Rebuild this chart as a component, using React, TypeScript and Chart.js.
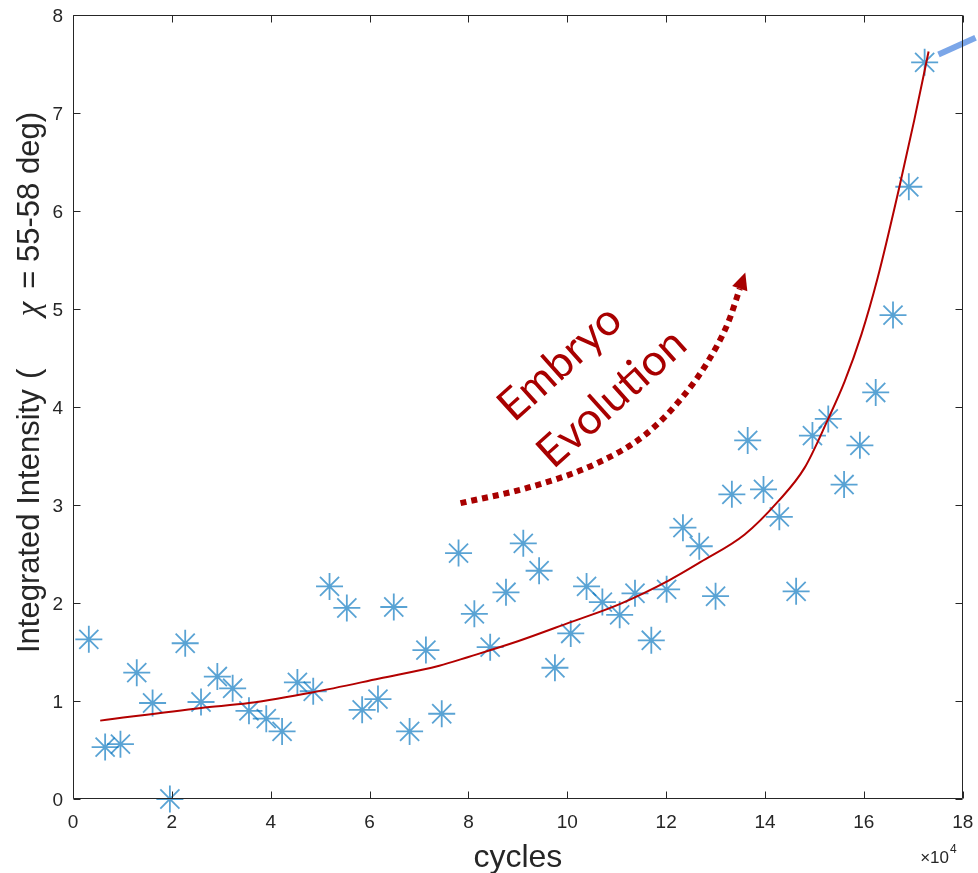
import React, { useEffect, useRef } from "react";
import { Chart, registerables } from "chart.js";

Chart.register(...registerables);

// measured data (cycles in units of 1e4)
const cyclesX = [0.32, 0.65, 0.96, 1.29, 1.61, 1.96, 2.27, 2.59, 2.92, 3.23, 3.56, 3.91, 4.23, 4.54, 4.86, 5.19, 5.54, 5.85, 6.17, 6.49, 6.81, 7.14, 7.46, 7.80, 8.12, 8.44, 8.76, 9.11, 9.43, 9.75, 10.07, 10.39, 10.71, 11.06, 11.37, 11.70, 12.01, 12.34, 12.67, 13.00, 13.33, 13.65, 13.97, 14.29, 14.63, 14.96, 15.28, 15.60, 15.92, 16.24, 16.59, 16.91, 17.23];
const intensity = [1.63, 0.53, 0.56, 1.29, 0.98, 0.0, 1.59, 0.99, 1.25, 1.13, 0.90, 0.82, 0.69, 1.19, 1.10, 2.17, 1.95, 0.91, 1.02, 1.96, 0.69, 1.52, 0.87, 2.51, 1.89, 1.55, 2.11, 2.61, 2.33, 1.34, 1.69, 2.17, 2.01, 1.88, 2.10, 1.62, 2.14, 2.77, 2.58, 2.07, 3.11, 3.66, 3.16, 2.88, 2.12, 3.71, 3.88, 3.21, 3.61, 4.15, 4.94, 6.25, 7.52];

// fitted curve
const fitX = [0.55, 2.59, 3.56, 4.86, 6.20, 7.41, 8.00, 9.00, 10.04, 11.06, 12.05, 12.70, 13.59, 14.27, 14.80, 15.26, 15.61, 15.95, 16.28, 16.72, 17.02, 17.31];
const fitY = [0.80, 0.93, 0.98, 1.09, 1.23, 1.36, 1.45, 1.61, 1.80, 1.99, 2.23, 2.42, 2.70, 3.04, 3.38, 3.86, 4.26, 4.74, 5.32, 6.25, 6.93, 7.63];

// "Embryo Evolution" dotted trend arrow
const trendX = [7.84, 9.22, 10.57, 11.58, 12.31, 12.85, 13.26, 13.49];
const trendY = [3.02, 3.18, 3.42, 3.72, 4.09, 4.47, 4.87, 5.21];

// blue pointer stroke at top right
const pointerX = [17.51, 18.26];
const pointerY = [7.60, 7.77];

const xTicks = [0, 2, 4, 6, 8, 10, 12, 14, 16, 18];
const yTicks = [0, 1, 2, 3, 4, 5, 6, 7, 8];
const xTickLabels = ["0", "2", "4", "6", "8", "10", "12", "14", "16", "18"];
const yTickLabels = ["0", "1", "2", "3", "4", "5", "6", "7", "8"];

const AXIS = "#262626";
const SANS = "'Liberation Sans', Arial, Helvetica, sans-serif";
const FIT_RED = "#B30000";
const ANNO_RED = "#A80000";

const decor = {
  id: "decor",
  afterDraw(chart: any) {
    const { ctx, chartArea: a, scales } = chart;
    const x = scales.x;
    const y = scales.y;
    ctx.save();

    // box
    ctx.strokeStyle = AXIS;
    ctx.lineWidth = 1;
    const L = Math.round(a.left) + 0.5;
    const R = Math.round(a.right) - 0.5;
    const T = Math.round(a.top) + 0.5;
    const B = Math.round(a.bottom) - 0.5;
    ctx.beginPath();
    ctx.rect(L, T, R - L, B - T);
    ctx.stroke();

    // inward ticks
    const tl = 7;
    ctx.beginPath();
    xTicks.forEach((v) => {
      const px = Math.round(x.getPixelForValue(v)) + 0.5;
      ctx.moveTo(px, B);
      ctx.lineTo(px, B - tl);
      ctx.moveTo(px, T);
      ctx.lineTo(px, T + tl);
    });
    yTicks.forEach((v) => {
      const py = Math.round(y.getPixelForValue(v)) + 0.5;
      ctx.moveTo(L, py);
      ctx.lineTo(L + tl, py);
      ctx.moveTo(R, py);
      ctx.lineTo(R - tl, py);
    });
    ctx.stroke();

    // tick labels
    ctx.fillStyle = AXIS;
    ctx.font = `19px ${SANS}`;
    ctx.textBaseline = "alphabetic";
    ctx.textAlign = "center";
    xTicks.forEach((v, i) => {
      ctx.fillText(xTickLabels[i], x.getPixelForValue(v), a.bottom + 29);
    });
    ctx.textAlign = "right";
    yTicks.forEach((v, i) => {
      ctx.fillText(yTickLabels[i], a.left - 10, y.getPixelForValue(v) + 7);
    });

    // x exponent label
    ctx.font = `17px ${SANS}`;
    ctx.textAlign = "right";
    ctx.fillText("\u00d710", 949, 863);
    ctx.font = `12px ${SANS}`;
    ctx.textAlign = "left";
    ctx.fillText("4", 950, 853);

    // x title
    ctx.font = `32px ${SANS}`;
    ctx.textAlign = "center";
    ctx.fillText("cycles", (a.left + a.right) / 2, 867);

    // y title (rotated)
    ctx.save();
    ctx.translate(39, 0);
    ctx.rotate(-Math.PI / 2);
    ctx.font = `31px ${SANS}`;
    ctx.textAlign = "left";
    ctx.fillText("Integrated Intensity", -653, 0);
    ctx.fillText("(", -379, 0);
    ctx.font = `italic 33px 'Liberation Serif', 'Times New Roman', serif`;
    ctx.textAlign = "center";
    ctx.fillText("\u03c7", -309, 0);
    ctx.font = `31px ${SANS}`;
    ctx.textAlign = "right";
    ctx.fillText("= 55-58 deg)", -112, 0);
    ctx.restore();

    // arrowhead of the trend arrow
    const n = trendX.length;
    const p1x = x.getPixelForValue(trendX[n - 2]);
    const p1y = y.getPixelForValue(trendY[n - 2]);
    const p2x = x.getPixelForValue(trendX[n - 1]);
    const p2y = y.getPixelForValue(trendY[n - 1]);
    let dx = p2x - p1x;
    let dy = p2y - p1y;
    const len = Math.hypot(dx, dy);
    dx /= len;
    dy /= len;
    const hl = 17;
    const hw = 8;
    ctx.fillStyle = ANNO_RED;
    ctx.beginPath();
    ctx.moveTo(p2x + dx * hl, p2y + dy * hl);
    ctx.lineTo(p2x - dy * hw, p2y + dx * hw);
    ctx.lineTo(p2x + dy * hw, p2y - dx * hw);
    ctx.closePath();
    ctx.fill();

    // annotation words
    const ang = (-42 * Math.PI) / 180;
    const words: [string, number, number][] = [
      ["Embryo", 9.85, 4.45],
      ["Evolution", 10.9, 4.09],
    ];
    ctx.font = `44px Lato, 'Open Sans', sans-serif`;
    ctx.textAlign = "center";
    ctx.textBaseline = "middle";
    words.forEach(([t, wx, wy]) => {
      ctx.save();
      ctx.translate(x.getPixelForValue(wx), y.getPixelForValue(wy));
      ctx.rotate(ang);
      ctx.fillText(t, 0, 0);
      ctx.restore();
    });

    ctx.restore();
  },
};

export default function App() {
  const ref = useRef<HTMLCanvasElement | null>(null);

  useEffect(() => {
    const canvas = ref.current;
    if (!canvas) return;
    const chart = new Chart(canvas, {
      type: "scatter",
      data: {
        datasets: [
          {
            type: "line",
            label: "fit",
            data: fitX.map((v, i) => ({ x: v, y: fitY[i] })),
            borderColor: FIT_RED,
            borderWidth: 2,
            pointRadius: 0,
            cubicInterpolationMode: "monotone",
            fill: false,
            order: 0,
            clip: false,
          } as any,
          {
            type: "scatter",
            label: "data",
            data: cyclesX.map((v, i) => ({ x: v, y: intensity[i] })),
            pointStyle: "star",
            pointRadius: 13.5,
            borderWidth: 1.8,
            borderColor: "rgba(0,114,189,0.65)",
            backgroundColor: "rgba(0,0,0,0)",
            order: 1,
            clip: false,
          } as any,
          {
            type: "line",
            label: "trend",
            data: trendX.map((v, i) => ({ x: v, y: trendY[i] })),
            borderColor: ANNO_RED,
            borderWidth: 6,
            borderDash: [6, 5],
            borderCapStyle: "butt",
            pointRadius: 0,
            cubicInterpolationMode: "monotone",
            fill: false,
            order: 2,
          } as any,
          {
            type: "line",
            label: "pointer",
            data: pointerX.map((v, i) => ({ x: v, y: pointerY[i] })),
            borderColor: "#7BA6E8",
            borderWidth: 6,
            pointRadius: 0,
            fill: false,
            order: 3,
            clip: false,
          } as any,
        ],
      },
      options: {
        animation: false,
        responsive: false,
        events: [],
        layout: { padding: { top: 13, right: 13, left: 0, bottom: 0 } },
        plugins: {
          legend: { display: false },
          tooltip: { enabled: false },
        },
        scales: {
          x: {
            type: "linear",
            min: 0,
            max: 18,
            afterFit(s: any) {
              s.height = 74;
            },
            afterBuildTicks(s: any) {
              s.ticks = xTicks.map((v) => ({ value: v }));
            },
            ticks: { display: false },
            grid: { display: false, drawTicks: false },
            border: { display: false },
          },
          y: {
            type: "linear",
            min: 0,
            max: 8,
            afterFit(s: any) {
              s.width = 73;
            },
            afterBuildTicks(s: any) {
              s.ticks = yTicks.map((v) => ({ value: v }));
            },
            ticks: { display: false },
            grid: { display: false, drawTicks: false },
            border: { display: false },
          },
        },
      } as any,
      plugins: [decor],
    });
    return () => chart.destroy();
  }, []);

  return (
    <div style={{ position: "fixed", left: 0, top: 0, width: 978, height: 873, background: "#fff" }}>
      <canvas ref={ref} width={978} height={873} style={{ width: 978, height: 873, display: "block" }} />
    </div>
  );
}
